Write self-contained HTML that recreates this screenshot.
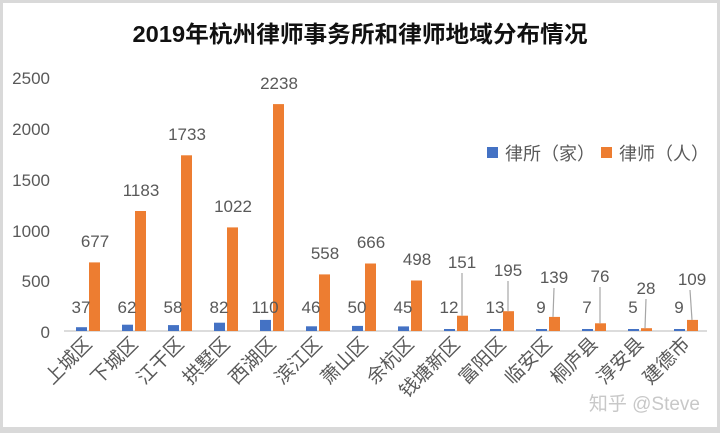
<!DOCTYPE html>
<html><head><meta charset="utf-8"><style>
html,body{margin:0;padding:0;background:#fff}
svg{display:block}
text{font-family:"Liberation Sans","Noto Sans CJK SC",sans-serif;fill:#595959}
.b{fill:#4472c4}.o{fill:#ed7d31}
.l{stroke:#a6a6a6;stroke-width:1.2}
</style></head><body>
<svg width="720" height="433" viewBox="0 0 720 433" xmlns="http://www.w3.org/2000/svg">
<rect x="0" y="0" width="720" height="433" fill="#d9d9d9"/>
<rect x="3" y="3" width="714" height="424" fill="#fff"/>
<text x="360" y="42" text-anchor="middle" font-size="23" font-weight="bold" style="fill:#111" textLength="455" lengthAdjust="spacingAndGlyphs">2019年杭州律师事务所和律师地域分布情况</text>
<g font-size="17" text-anchor="end">
<text x="50" y="84">2500</text><text x="50" y="135">2000</text><text x="50" y="186">1500</text><text x="50" y="237">1000</text><text x="50" y="287">500</text><text x="50" y="338">0</text>
</g>
<line x1="64" y1="331" x2="707" y2="331" stroke="#d0d0d0" stroke-width="1.5"/>
<g>
<rect class="b" x="76" y="327.2" width="11" height="3.8"/>
<rect class="b" x="122" y="324.7" width="11" height="6.3"/>
<rect class="b" x="168" y="325.1" width="11" height="5.9"/>
<rect class="b" x="214" y="322.7" width="11" height="8.3"/>
<rect class="b" x="260" y="319.9" width="11" height="11.1"/>
<rect class="b" x="306" y="326.3" width="11" height="4.7"/>
<rect class="b" x="352" y="325.9" width="11" height="5.1"/>
<rect class="b" x="398" y="326.4" width="11" height="4.6"/>
<rect class="b" x="444" y="329" width="11" height="2"/>
<rect class="b" x="490" y="329" width="11" height="2"/>
<rect class="b" x="536" y="329" width="11" height="2"/>
<rect class="b" x="582" y="329" width="11" height="2"/>
<rect class="b" x="628" y="329" width="11" height="2"/>
<rect class="b" x="674" y="329" width="11" height="2"/>

<rect class="o" x="89" y="262.4" width="11" height="68.6"/>
<rect class="o" x="135" y="211" width="11" height="120"/>
<rect class="o" x="181" y="155.3" width="11" height="175.7"/>
<rect class="o" x="227" y="227.4" width="11" height="103.6"/>
<rect class="o" x="273" y="104.1" width="11" height="226.9"/>
<rect class="o" x="319" y="274.4" width="11" height="56.6"/>
<rect class="o" x="365" y="263.5" width="11" height="67.5"/>
<rect class="o" x="411" y="280.5" width="11" height="50.5"/>
<rect class="o" x="457" y="315.7" width="11" height="15.3"/>
<rect class="o" x="503" y="311.2" width="11" height="19.8"/>
<rect class="o" x="549" y="316.9" width="11" height="14.1"/>
<rect class="o" x="595" y="323.3" width="11" height="7.7"/>
<rect class="o" x="641" y="328.2" width="11" height="2.8"/>
<rect class="o" x="687" y="319.9" width="11" height="11.1"/>
</g>
<g font-size="17" text-anchor="middle">
<text x="81" y="313">37</text><text x="127" y="313">62</text><text x="173" y="313">58</text><text x="219" y="313">82</text><text x="265" y="313">110</text><text x="311" y="313">46</text><text x="357" y="313">50</text><text x="403" y="313">45</text><text x="449" y="313">12</text><text x="495" y="313">13</text><text x="541" y="313">9</text><text x="587" y="313">7</text><text x="633" y="313">5</text><text x="679" y="313">9</text>
<text x="95" y="247">677</text><text x="141" y="196">1183</text><text x="187" y="140">1733</text><text x="233" y="212">1022</text><text x="279" y="89">2238</text><text x="325" y="259">558</text><text x="371" y="248">666</text><text x="417" y="265">498</text>
<text x="462" y="268">151</text><text x="508" y="276">195</text><text x="554" y="283">139</text><text x="600" y="282">76</text><text x="646" y="294">28</text><text x="692" y="285">109</text>
</g>
<line class="l" x1="462" y1="273" x2="462" y2="315.7"/>
<line class="l" x1="508" y1="281" x2="508" y2="311.2"/>
<line class="l" x1="554" y1="288" x2="553" y2="316.9"/>
<line class="l" x1="600" y1="287" x2="600" y2="323.3"/>
<line class="l" x1="646" y1="299" x2="645" y2="328.2"/>
<line class="l" x1="690" y1="290" x2="692" y2="319.9"/>
<g font-size="19" text-anchor="end">
<text transform="translate(93,345) rotate(-45)">上城区</text>
<text transform="translate(139,345) rotate(-45)">下城区</text>
<text transform="translate(185,345) rotate(-45)">江干区</text>
<text transform="translate(231,345) rotate(-45)">拱墅区</text>
<text transform="translate(277,345) rotate(-45)">西湖区</text>
<text transform="translate(323,345) rotate(-45)">滨江区</text>
<text transform="translate(369,345) rotate(-45)">萧山区</text>
<text transform="translate(415,345) rotate(-45)">余杭区</text>
<text transform="translate(461,345) rotate(-45)">钱塘新区</text>
<text transform="translate(507,345) rotate(-45)">富阳区</text>
<text transform="translate(553,345) rotate(-45)">临安区</text>
<text transform="translate(599,345) rotate(-45)">桐庐县</text>
<text transform="translate(645,345) rotate(-45)">淳安县</text>
<text transform="translate(691,345) rotate(-45)">建德市</text>
</g>
<rect x="487" y="147" width="11" height="11" fill="#4472c4"/>
<text x="505" y="160" font-size="18">律所（家）</text>
<rect x="601" y="147" width="11" height="11" fill="#ed7d31"/>
<text x="619" y="160" font-size="18">律师（人）</text>
<text x="700" y="410" text-anchor="end" font-size="19" style="fill:#c8c8c8">知乎 @Steve</text>
</svg>
</body></html>
